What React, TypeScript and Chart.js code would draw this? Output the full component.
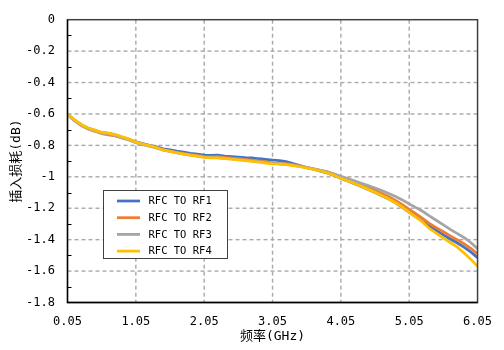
import React, { useEffect, useRef } from "react";
import { Chart, registerables } from "chart.js";

Chart.register(...registerables);

// Sweep frequencies (GHz)
const freqGHz = [
  0.05, 0.15, 0.25, 0.35, 0.45, 0.55, 0.65, 0.75, 0.85, 0.95,
  1.05, 1.15, 1.25, 1.35, 1.45, 1.55, 1.65, 1.75, 1.85, 1.95,
  2.05, 2.15, 2.25, 2.35, 2.45, 2.55, 2.65, 2.75, 2.85, 2.95,
  3.05, 3.15, 3.25, 3.35, 3.45, 3.55, 3.65, 3.75, 3.85, 3.95,
  4.05, 4.15, 4.25, 4.35, 4.45, 4.55, 4.65, 4.75, 4.85, 4.95,
  5.05, 5.15, 5.25, 5.35, 5.45, 5.55, 5.65, 5.75, 5.85, 5.95,
  6.05,
];

// Insertion loss per path (dB)
const lossRF1 = [
  -0.600, -0.638, -0.668, -0.690, -0.704, -0.718, -0.724, -0.733, -0.748, -0.761,
  -0.777, -0.789, -0.799, -0.809, -0.822, -0.829, -0.836, -0.842, -0.850, -0.855,
  -0.862, -0.864, -0.862, -0.868, -0.871, -0.874, -0.878, -0.880, -0.885, -0.889,
  -0.893, -0.897, -0.903, -0.915, -0.928, -0.942, -0.952, -0.964, -0.976, -0.992,
  -1.011, -1.027, -1.044, -1.062, -1.081, -1.100, -1.120, -1.142, -1.166, -1.194,
  -1.226, -1.255, -1.285, -1.316, -1.343, -1.370, -1.396, -1.420, -1.447, -1.478,
  -1.515,
];
const lossRF2 = [
  -0.602, -0.641, -0.672, -0.694, -0.709, -0.726, -0.733, -0.740, -0.752, -0.764,
  -0.781, -0.793, -0.803, -0.814, -0.828, -0.836, -0.844, -0.851, -0.858, -0.864,
  -0.871, -0.873, -0.872, -0.877, -0.881, -0.884, -0.889, -0.893, -0.898, -0.903,
  -0.912, -0.917, -0.916, -0.922, -0.930, -0.940, -0.949, -0.959, -0.969, -0.983,
  -1.000, -1.015, -1.031, -1.049, -1.067, -1.086, -1.106, -1.127, -1.150, -1.177,
  -1.207, -1.236, -1.266, -1.298, -1.325, -1.350, -1.376, -1.400, -1.426, -1.455,
  -1.490,
];
const lossRF3 = [
  -0.603, -0.643, -0.674, -0.695, -0.709, -0.722, -0.729, -0.738, -0.752, -0.766,
  -0.783, -0.795, -0.805, -0.816, -0.831, -0.839, -0.848, -0.855, -0.862, -0.868,
  -0.874, -0.877, -0.878, -0.882, -0.886, -0.890, -0.894, -0.899, -0.903, -0.908,
  -0.912, -0.916, -0.920, -0.926, -0.933, -0.941, -0.950, -0.959, -0.969, -0.982,
  -0.997, -1.011, -1.026, -1.041, -1.056, -1.071, -1.088, -1.106, -1.126, -1.148,
  -1.172, -1.196, -1.221, -1.250, -1.278, -1.306, -1.335, -1.360, -1.386, -1.418,
  -1.458,
];
const lossRF4 = [
  -0.600, -0.637, -0.667, -0.689, -0.703, -0.717, -0.722, -0.731, -0.746, -0.760,
  -0.779, -0.791, -0.802, -0.814, -0.829, -0.838, -0.847, -0.856, -0.862, -0.868,
  -0.876, -0.879, -0.880, -0.884, -0.888, -0.892, -0.897, -0.902, -0.907, -0.913,
  -0.917, -0.920, -0.923, -0.929, -0.936, -0.944, -0.953, -0.963, -0.975, -0.990,
  -1.010, -1.026, -1.043, -1.061, -1.080, -1.099, -1.119, -1.141, -1.165, -1.193,
  -1.226, -1.257, -1.290, -1.330, -1.360, -1.390, -1.418, -1.446, -1.484, -1.524,
  -1.570,
];

const seriesNames = ["RFC TO RF1", "RFC TO RF2", "RFC TO RF3", "RFC TO RF4"];
const seriesColors = ["#4472C4", "#ED7D31", "#A5A5A5", "#FFC000"];

const xTicks = [0.05, 1.05, 2.05, 3.05, 4.05, 5.05, 6.05];
const yTicks = [0, -0.2, -0.4, -0.6, -0.8, -1, -1.2, -1.4, -1.6, -1.8];
const yMinorTicks = [-0.1, -0.3, -0.5, -0.7, -0.9, -1.1, -1.3, -1.5, -1.7];

const xTitle = "频率(GHz)";
const yTitle = "插入损耗(dB)";

const MONO = '"DejaVu Sans Mono", "Noto Sans CJK SC", monospace';

const formatY = (v: number) => {
  const r = Math.round(v * 10) / 10;
  if (r === 0) return "0";
  return Number.isInteger(r) ? String(r) : r.toFixed(1);
};

const DASH = 4;
const GAP = 3;

// Dashed grid line built from small filled rectangles
function dashedGridLine(
  ctx: CanvasRenderingContext2D,
  horizontal: boolean,
  at: number,
  from: number,
  to: number,
  thickness: number
) {
  for (let d = from; d < to; d += DASH + GAP) {
    const e = Math.min(d + DASH, to);
    if (horizontal) ctx.fillRect(d, at - thickness / 2, e - d, thickness);
    else ctx.fillRect(at - thickness / 2, d, thickness, e - d);
  }
}

// Dashed grid lines behind the curves
const gridPlugin = {
  id: "dashGrid",
  beforeDatasetsDraw(chart: any) {
    const { ctx, chartArea } = chart;
    const { left, right, top, bottom } = chartArea;
    const xs = chart.scales.x;
    const ys = chart.scales.y;
    ctx.save();
    ctx.fillStyle = "#a9a9a9";
    for (const v of xTicks.slice(1, -1)) {
      dashedGridLine(ctx, false, xs.getPixelForValue(v), top, bottom, 1.4);
    }
    for (const v of yTicks.slice(1, -1)) {
      dashedGridLine(ctx, true, ys.getPixelForValue(v), left, right, 1.4);
    }
    ctx.restore();
  },
};

// Plot frame and short inward minor ticks on the left axis
const framePlugin = {
  id: "frame",
  afterDatasetsDraw(chart: any) {
    const { ctx, chartArea } = chart;
    const { left, right, top, bottom } = chartArea;
    const ys = chart.scales.y;
    ctx.save();
    ctx.strokeStyle = "#404040";
    ctx.lineWidth = 1.5;
    ctx.strokeRect(left, top, right - left, bottom - top);
    ctx.strokeStyle = "#000";
    ctx.lineWidth = 1.3;
    ctx.beginPath();
    ctx.moveTo(left, top);
    ctx.lineTo(left, bottom);
    ctx.lineTo(right, bottom);
    ctx.stroke();
    ctx.lineWidth = 1;
    ctx.beginPath();
    for (const v of yMinorTicks) {
      const y = Math.round(ys.getPixelForValue(v)) + 0.5;
      ctx.moveTo(left, y);
      ctx.lineTo(left + 4, y);
    }
    ctx.stroke();
    ctx.restore();
  },
};

// Boxed legend sitting inside the plot area
const legendBox = { left: 103.5, top: 190.5, width: 124, height: 68, rowGap: 16.7 };
const insideLegendPlugin = {
  id: "insideLegend",
  afterDraw(chart: any) {
    const { ctx } = chart;
    const b = legendBox;
    ctx.save();
    ctx.fillStyle = "#fff";
    ctx.fillRect(b.left, b.top, b.width, b.height);
    ctx.strokeStyle = "#404040";
    ctx.lineWidth = 1;
    ctx.strokeRect(b.left, b.top, b.width, b.height);
    ctx.font = `10.5px ${MONO}`;
    ctx.textBaseline = "middle";
    ctx.textAlign = "left";
    chart.data.datasets.forEach((ds: any, i: number) => {
      const y = b.top + 10.5 + i * b.rowGap;
      ctx.strokeStyle = ds.borderColor;
      ctx.lineWidth = 2.75;
      ctx.beginPath();
      ctx.moveTo(b.left + 13.5, y);
      ctx.lineTo(b.left + 36.5, y);
      ctx.stroke();
      ctx.fillStyle = "#000";
      ctx.fillText(ds.label, b.left + 45, y + 0.5);
    });
    ctx.restore();
  },
};

const seriesValues = [lossRF1, lossRF2, lossRF3, lossRF4];
const drawOrder = [3, 2, 1, 0];

export default function App() {
  const canvasRef = useRef<HTMLCanvasElement | null>(null);

  useEffect(() => {
    if (!canvasRef.current) return;

    const chart = new Chart(canvasRef.current, {
      type: "line",
      data: {
        datasets: seriesNames.map((name, i) => ({
          label: name,
          data: freqGHz.map((f, k) => ({ x: f, y: seriesValues[i][k] })),
          borderColor: seriesColors[i],
          backgroundColor: seriesColors[i],
          borderWidth: 2.75,
          pointRadius: 0,
          tension: 0,
          fill: false,
          order: drawOrder[i],
        })),
      },
      options: {
        responsive: false,
        animation: false,
        devicePixelRatio: 1,
        layout: { padding: { top: 10.7, right: 15.5, bottom: 0, left: 0 } },
        plugins: {
          legend: { display: false },
          tooltip: { enabled: false },
        },
        scales: {
          x: {
            type: "linear",
            min: 0.05,
            max: 6.05,
            afterBuildTicks: (s: any) => {
              s.ticks = xTicks.map((v) => ({ value: v }));
            },
            afterFit: (s: any) => {
              s.height = 47.5;
            },
            grid: { display: false, drawTicks: false },
            border: { display: false },
            ticks: {
              font: { family: MONO, size: 12 },
              color: "#000",
              padding: 12,
              maxRotation: 0,
              autoSkip: false,
              callback: (v: any) => Number(v).toFixed(2),
            },
            title: {
              display: true,
              text: xTitle,
              font: { family: MONO, size: 13 },
              color: "#000",
              padding: { top: 0, bottom: 5.7 },
            },
          },
          y: {
            type: "linear",
            min: -1.8,
            max: 0,
            afterBuildTicks: (s: any) => {
              s.ticks = yTicks.map((v) => ({ value: v }));
            },
            afterFit: (s: any) => {
              s.width = 67.5;
            },
            grid: { display: false, drawTicks: false },
            border: { display: false },
            ticks: {
              font: { family: MONO, size: 12 },
              color: "#000",
              padding: 12.5,
              autoSkip: false,
              callback: (v: any) => formatY(Number(v)),
            },
            title: {
              display: true,
              text: yTitle,
              font: { family: MONO, size: 13 },
              color: "#000",
              padding: { top: 8.7, bottom: 0 },
            },
          },
        },
      },
      plugins: [gridPlugin, framePlugin, insideLegendPlugin],
    } as any);

    return () => chart.destroy();
  }, []);

  return (
    <div style={{ position: "absolute", left: 0, top: 0, width: 504, height: 350, background: "#fff" }}>
      <canvas ref={canvasRef} width={504} height={350} style={{ display: "block" }} />
    </div>
  );
}
